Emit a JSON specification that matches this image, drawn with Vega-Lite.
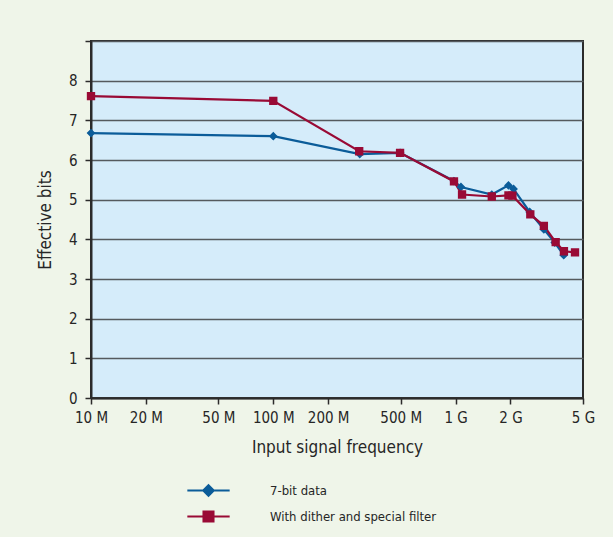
{
  "$schema": "https://vega.github.io/schema/vega-lite/v6.json",
  "width": 492,
  "height": 357,
  "autosize": {"type": "none"},
  "padding": {"left": 91, "top": 41, "right": 30, "bottom": 139},
  "background": "#eff5e9",
  "config": {
    "font": "DejaVu Sans Condensed, Roboto, sans-serif",
    "view": {"fill": "#d5ecfa", "stroke": "#2b2b2b", "strokeWidth": 2},
    "axis": {
      "labelFont": "DejaVu Sans Condensed, Roboto, sans-serif",
      "titleFont": "DejaVu Sans Condensed, Roboto, sans-serif",
      "labelColor": "#262626",
      "titleColor": "#262626",
      "labelFontSize": 15,
      "titleFontSize": 17,
      "titleFontWeight": "normal",
      "domainColor": "#2b2b2b",
      "domainWidth": 2,
      "tickColor": "#2b2b2b",
      "tickWidth": 1.5,
      "tickSize": 6
    },
    "legend": {
      "labelFont": "DejaVu Sans Condensed, Roboto, sans-serif",
      "labelFontSize": 13,
      "labelColor": "#262626",
      "labelLimit": 400
    }
  },
  "data": {
    "values": [
      {"series": "7-bit data", "freq": 10000000, "bits": 6.68},
      {"series": "7-bit data", "freq": 100000000, "bits": 6.6},
      {"series": "7-bit data", "freq": 298000000, "bits": 6.15},
      {"series": "7-bit data", "freq": 496000000, "bits": 6.18},
      {"series": "7-bit data", "freq": 980000000, "bits": 5.47},
      {"series": "7-bit data", "freq": 1070000000, "bits": 5.32},
      {"series": "7-bit data", "freq": 1580000000, "bits": 5.13},
      {"series": "7-bit data", "freq": 1950000000, "bits": 5.36},
      {"series": "7-bit data", "freq": 2080000000, "bits": 5.27},
      {"series": "7-bit data", "freq": 2550000000, "bits": 4.69},
      {"series": "7-bit data", "freq": 3050000000, "bits": 4.25},
      {"series": "7-bit data", "freq": 3500000000, "bits": 3.92},
      {"series": "7-bit data", "freq": 3920000000, "bits": 3.6},
      {"series": "With dither and special filter", "freq": 10000000, "bits": 7.61},
      {"series": "With dither and special filter", "freq": 100000000, "bits": 7.49},
      {"series": "With dither and special filter", "freq": 296000000, "bits": 6.22},
      {"series": "With dither and special filter", "freq": 496000000, "bits": 6.18},
      {"series": "With dither and special filter", "freq": 980000000, "bits": 5.46},
      {"series": "With dither and special filter", "freq": 1085000000, "bits": 5.13},
      {"series": "With dither and special filter", "freq": 1580000000, "bits": 5.08},
      {"series": "With dither and special filter", "freq": 1950000000, "bits": 5.11},
      {"series": "With dither and special filter", "freq": 2050000000, "bits": 5.1},
      {"series": "With dither and special filter", "freq": 2570000000, "bits": 4.63},
      {"series": "With dither and special filter", "freq": 3050000000, "bits": 4.34},
      {"series": "With dither and special filter", "freq": 3540000000, "bits": 3.93},
      {"series": "With dither and special filter", "freq": 3930000000, "bits": 3.7},
      {"series": "With dither and special filter", "freq": 4520000000, "bits": 3.67}
    ]
  },
  "encoding": {
    "x": {
      "field": "freq",
      "type": "quantitative",
      "scale": {"type": "log", "domain": [10000000, 5000000000], "nice": false},
      "axis": {
        "title": "Input signal frequency",
        "values": [10000000, 20000000, 50000000, 100000000, 200000000, 500000000, 1000000000, 2000000000, 5000000000],
        "labelExpr": "datum.value >= 1000000000 ? round(datum.value / 1000000000) + ' G' : round(datum.value / 1000000) + ' M'",
        "grid": false,
        "labelPadding": 6,
        "titlePadding": 14,
        "labelFlush": false,
        "labelOverlap": false
      }
    },
    "y": {
      "field": "bits",
      "type": "quantitative",
      "scale": {"domain": [0, 9], "nice": false},
      "axis": {
        "title": "Effective bits",
        "values": [0, 1, 2, 3, 4, 5, 6, 7, 8, 9],
        "labelExpr": "datum.value == 9 ? '' : datum.label",
        "grid": true,
        "gridColor": "#555a5e",
        "gridWidth": 1.5,
        "labelPadding": 8,
        "titlePadding": 14
      }
    },
    "color": {
      "field": "series",
      "type": "nominal",
      "scale": {"domain": ["7-bit data", "With dither and special filter"], "range": ["#0b5c99", "#990a35"]},
      "legend": {
        "title": null,
        "orient": "none",
        "legendX": 103,
        "legendY": 435,
        "symbolSize": 700,
        "labelOffset": 47,
        "rowPadding": 2,
        "padding": 0,
        "encode": {
          "symbols": {"update": {"stroke": {"scale": "color", "field": "value"}, "strokeWidth": {"value": 2}}}
        }
      }
    }
  },
  "layer": [
    {
      "mark": {"type": "line", "strokeWidth": 2.2}
    },
    {
      "mark": {"type": "point", "filled": true, "opacity": 1, "size": 480},
      "encoding": {
        "shape": {
          "field": "series",
          "type": "nominal",
          "scale": {
            "domain": ["7-bit data", "With dither and special filter"],
            "range": ["M-1.6,0H1.6M0,-0.4L0.4,0L0,0.4L-0.4,0Z", "M-1.6,0H1.6M-0.38,-0.38H0.38V0.38H-0.38Z"]
          }
        }
      }
    }
  ]
}
